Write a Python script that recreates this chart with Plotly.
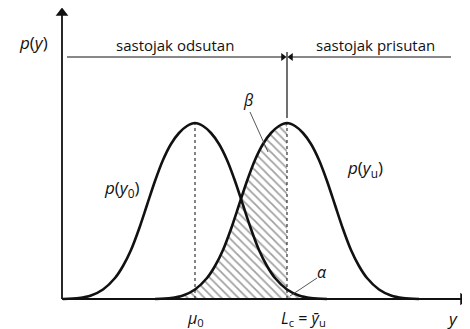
import plotly.graph_objects as go

# Vrijednosti očitane sa slike (jedinice ~ pikseli od ishodišta)
mu0 = 133
lc = 225

x_y0 = [1, 17, 29, 41, 53, 61, 69, 77, 85, 93, 101, 109, 117, 125, 133,
        141, 149, 157, 165, 173, 181, 189, 197, 205, 213, 225, 237, 249, 265]
p_y0 = [0, 1, 3.5, 9.5, 21, 33, 49, 70, 94, 118, 139, 155, 166, 173, 176,
        173, 166, 155, 139, 118, 94, 70, 49, 33, 21, 9.5, 3.5, 1, 0]

x_yu = [93, 109, 121, 133, 145, 153, 161, 169, 177, 185, 193, 201, 209, 217, 225,
        233, 241, 249, 257, 265, 273, 281, 289, 297, 305, 317, 329, 341, 357]
p_yu = [0, 1, 3.5, 9.5, 21, 33, 49, 70, 94, 118, 139, 155, 166, 173, 176,
        173, 166, 155, 139, 118, 94, 70, 49, 33, 21, 9.5, 3.5, 1, 0]

peak = max(p_y0)

INK = "#111111"
FONT = "Open Sans"
XMAX, YMAX = 406, 291
DIM_Y = 242

fig = go.Figure()

hatch = dict(shape="\\", size=6, solidity=0.3, fgcolor="#444444", bgcolor="rgba(0,0,0,0)")

# beta: ispod p(yu) lijevo od Lc
bx = [x for x in x_yu if x <= lc]
by = p_yu[:len(bx)]
fig.add_trace(go.Scatter(x=bx, y=by, mode="lines", line=dict(width=0, shape="spline", smoothing=0.8),
                         fill="tozeroy", fillcolor="rgba(0,0,0,0)", fillpattern=hatch, hoverinfo="skip"))
# alpha: ispod p(y0) desno od Lc
ai = [i for i, x in enumerate(x_y0) if x >= lc]
fig.add_trace(go.Scatter(x=[x_y0[i] for i in ai], y=[p_y0[i] for i in ai], mode="lines",
                         line=dict(width=0, shape="spline", smoothing=0.8),
                         fill="tozeroy", fillcolor="rgba(0,0,0,0)", fillpattern=hatch, hoverinfo="skip"))

# isprekidane okomice
for xv in (mu0, lc):
    fig.add_trace(go.Scatter(x=[xv, xv], y=[0, peak], mode="lines",
                             line=dict(color="#333333", width=1.2, dash="3px,3px"), hoverinfo="skip"))

# krivulje
for xs, ys in ((x_y0, p_y0), (x_yu, p_yu)):
    fig.add_trace(go.Scatter(x=xs, y=ys, mode="lines",
                             line=dict(color=INK, width=2.6, shape="spline", smoothing=0.8), hoverinfo="skip"))

# osi, kotna linija, okomica Lc i linije do oznaka
line_k = dict(color=INK, width=1.8)
fig.add_shape(type="line", x0=0, x1=XMAX - 6, y0=0, y1=0, line=line_k)
fig.add_shape(type="line", x0=0, x1=0, y0=0, y1=YMAX - 6, line=line_k)
fig.add_shape(type="line", x0=5, x1=lc - 3, y0=DIM_Y, y1=DIM_Y, line=dict(color=INK, width=1))
fig.add_shape(type="line", x0=lc + 3, x1=389, y0=DIM_Y, y1=DIM_Y, line=dict(color=INK, width=1))
fig.add_shape(type="line", x0=lc, x1=lc, y0=181, y1=247, line=dict(color=INK, width=1.2))
fig.add_shape(type="line", x0=188, x1=206, y0=187, y1=147, line=dict(color="#444444", width=0.9))
fig.add_shape(type="line", x0=255, x1=228, y0=21, y1=3, line=dict(color="#444444", width=0.9))

# vrhovi strelica
fig.add_trace(go.Scatter(x=[XMAX - 5, 0], y=[0, YMAX - 5], mode="markers", cliponaxis=False,
                         marker=dict(symbol=["triangle-right", "triangle-up"], size=11, color=INK),
                         hoverinfo="skip"))
fig.add_trace(go.Scatter(x=[lc - 4, lc + 4], y=[DIM_Y, DIM_Y], mode="markers", cliponaxis=False,
                         marker=dict(symbol=["triangle-right", "triangle-left"], size=7, color=INK),
                         hoverinfo="skip"))

labels = [
    (-29, 257, "<i>p</i>(<i>y</i>)", 17),
    (113, 254, "sastojak odsutan", 15),
    (313, 254, "sastojak prisutan", 15),
    (186, 199, "<i>β</i>", 16),
    (303, 131, "<i>p</i>(<i>y</i><sub>u</sub>)", 17),
    (60, 111, "<i>p</i>(<i>y</i><sub>0</sub>)", 17),
    (260, 27, "<i>α</i>", 16),
    (133, -19, "<i>μ</i><sub>0</sub>", 16),
    (241, -19, "<i>L</i><sub>c</sub> = <i>ȳ</i><sub>u</sub>", 16),
    (390, -19, "<i>y</i>", 17),
]
ann = [dict(x=x, y=y, xref="x", yref="y", text=t, showarrow=False,
            font=dict(family=FONT, size=s, color=INK), xanchor="center", yanchor="middle")
       for x, y, t, s in labels]

# stranica ima rub od 8 px: slika 462x321, 1 jedinica = 1 px, raspon pokriva i oznake
fig.update_layout(
    width=462, height=321,
    margin=dict(l=0, r=0, t=0, b=0),
    paper_bgcolor="white", plot_bgcolor="white",
    showlegend=False,
    xaxis=dict(range=[-54, 408], visible=False, fixedrange=True),
    yaxis=dict(range=[-30, 291], visible=False, fixedrange=True),
    annotations=ann,
)

fig.write_html("out.html", config={"displayModeBar": False})
